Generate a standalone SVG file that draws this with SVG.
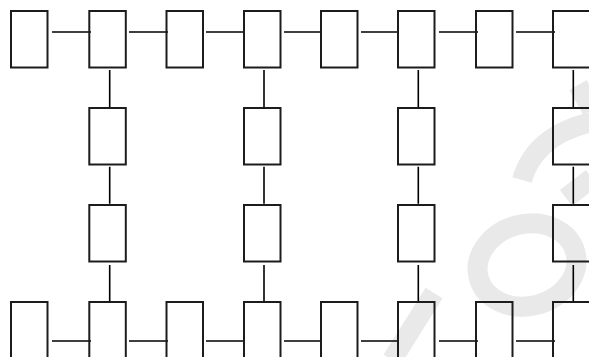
<svg xmlns="http://www.w3.org/2000/svg" width="589" height="357" viewBox="0 0 589 357">
<style>
.box{fill:none;stroke:#1c1c1c;stroke-width:2}
.wire{fill:none;stroke:#000;stroke-width:1.6}
.wm{fill:none;stroke:#e9e9e9;stroke-width:20}
</style>
<defs>
<rect id="b" class="box" width="36.5" height="56.5"/>
<rect id="bl" class="box" width="42" height="56.5"/>
</defs>
<rect width="589" height="357" fill="#fff"/>
<g id="watermark">
<line class="wm" x1="434" y1="293" x2="392" y2="360"/>
<ellipse class="wm" cx="527" cy="265" rx="50" ry="41" transform="rotate(-15 527 265)"/>
<path class="wm" d="M522 180 Q535 135 592 122"/>
<path class="wm" d="M578 85 L592 110"/>
<path class="wm" d="M566 198 L592 178"/>
</g>
<g id="connectors">
<path class="wire" d="M52 32H91M129 32H168M206 32H245M284 32H322M361 32H399M439 32H478M516 32H555"/>
<path class="wire" d="M52 341H91M129 341H168M206 341H245M284 341H322M361 341H399M439 341H478M516 341H555"/>
<path class="wire" d="M109.7 70V107M109.7 166.7V203.7M109.7 265V302"/>
<path class="wire" d="M264 70V107M264 166.7V203.7M264 265V302"/>
<path class="wire" d="M418.3 70V107M418.3 166.7V203.7M418.3 265V302"/>
<path class="wire" d="M573.3 70V107M573.3 166.7V203.7M573.3 265V302"/>
</g>
<g id="t1"><use href="#b" x="11" y="11"/></g>
<g id="t2"><use href="#b" x="89.3" y="11"/></g>
<g id="t3"><use href="#b" x="166.5" y="11"/></g>
<g id="t4"><use href="#b" x="244" y="11"/></g>
<g id="t5"><use href="#b" x="321" y="11"/></g>
<g id="t6"><use href="#b" x="398" y="11"/></g>
<g id="t7"><use href="#b" x="476" y="11"/></g>
<g id="t8"><use href="#bl" x="553" y="11"/></g>
<g id="m1a"><use href="#b" x="89.3" y="108"/></g>
<g id="m1b"><use href="#b" x="89.3" y="205"/></g>
<g id="m2a"><use href="#b" x="244" y="108"/></g>
<g id="m2b"><use href="#b" x="244" y="205"/></g>
<g id="m3a"><use href="#b" x="398" y="108"/></g>
<g id="m3b"><use href="#b" x="398" y="205"/></g>
<g id="m4a"><use href="#bl" x="553" y="108"/></g>
<g id="m4b"><use href="#bl" x="553" y="205"/></g>
<g id="b1"><use href="#b" x="11" y="302"/></g>
<g id="b2"><use href="#b" x="89.3" y="302"/></g>
<g id="b3"><use href="#b" x="166.5" y="302"/></g>
<g id="b4"><use href="#b" x="244" y="302"/></g>
<g id="b5"><use href="#b" x="321" y="302"/></g>
<g id="b6"><use href="#b" x="398" y="302"/></g>
<g id="b7"><use href="#b" x="476" y="302"/></g>
<g id="b8"><use href="#bl" x="553" y="302"/></g>
</svg>
